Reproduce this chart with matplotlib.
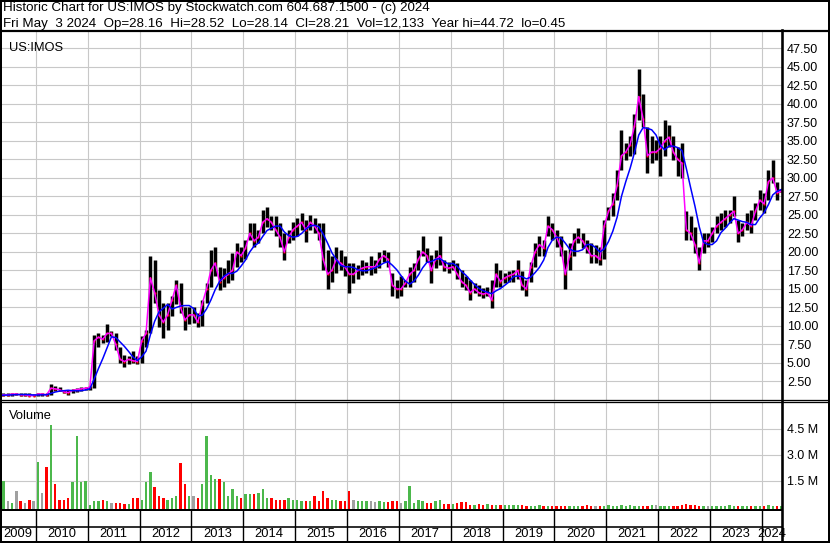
import numpy as np
import pandas as pd
import matplotlib
matplotlib.use("Agg")
import matplotlib.pyplot as plt
from matplotlib.lines import Line2D

plt.rcParams['font.family'] = ['Liberation Sans', 'DejaVu Sans']

# ---------------- data (monthly) ----------------
# months: Apr 2009 .. May 2024
hi = [0.8, 0.9, 0.9, 1.0, 1.0, 0.9, 0.9, 0.9, 0.8,
      1.0, 1.0, 1.0, 2.1, 1.9, 1.7, 1.4, 1.3, 1.5, 1.6, 1.7, 1.8,
      1.9, 8.8, 9.0, 8.8, 10.2, 9.3, 9.1, 7.2, 6.1, 5.9, 6.6, 5.9,
      8.6, 9.5, 19.5, 18.9, 14.9, 13.1, 13.1, 14.0, 16.2, 15.8, 12.6, 12.6,
      12.6, 11.7, 13.5, 15.8, 20.3, 20.7, 18.0, 17.8, 18.9, 19.8, 21.2, 20.7,
      21.6, 23.9, 23.9, 23.0, 25.7, 26.1, 24.8, 24.8, 23.9, 22.5, 23.0, 24.1,
      24.6, 25.2, 24.3, 25.0, 24.6, 23.9, 23.9, 20.3, 19.4, 20.7, 20.3, 19.4,
      18.5, 18.5, 18.3, 18.9, 18.7, 19.4, 18.9, 20.0, 20.3, 20.0, 17.1, 16.2,
      16.7, 16.2, 18.0, 18.5, 20.3, 22.1, 20.5, 19.6, 20.3, 22.1, 18.9, 18.7,
      18.9, 18.5, 17.6, 16.7, 16.2, 15.8, 15.5, 15.1, 15.3, 16.2, 18.5, 17.6,
      17.1, 17.4, 17.6, 18.9, 17.4, 16.2, 18.7, 21.2, 22.1, 21.6, 24.8, 23.9,
      23.0, 22.1, 20.3, 21.2, 22.5, 23.2, 22.5, 21.6, 21.2, 21.0, 20.7, 24.3,
      26.1, 27.9, 31.1, 36.5, 34.7, 35.6, 38.7, 44.7, 41.4, 36.9, 35.6, 35.1,
      35.6, 37.8, 37.1, 35.6, 34.2, 34.7, 25.5, 24.8, 23.4, 20.7, 22.5, 22.5,
      23.4, 24.8, 25.2, 25.7, 25.7, 27.5, 24.3, 23.9, 25.2, 25.7, 26.6, 28.4,
      27.9, 31.1, 32.4, 29.5, 28.52]
lo = [0.45, 0.5, 0.6, 0.6, 0.7, 0.6, 0.6, 0.5, 0.5,
      0.6, 0.6, 0.6, 0.7, 1.2, 1.2, 0.9, 0.7, 0.9, 1.1, 1.2, 1.3,
      1.4, 1.6, 7.2, 7.7, 7.9, 8.6, 6.8, 5.0, 4.5, 4.8, 5.0, 4.8,
      5.0, 7.2, 9.0, 13.1, 9.9, 8.4, 9.5, 11.3, 13.0, 11.7, 9.5, 10.2,
      10.4, 9.9, 10.0, 13.1, 15.3, 16.7, 14.9, 15.3, 15.8, 16.2, 18.0, 18.7,
      19.0, 21.6, 20.7, 21.2, 22.5, 23.4, 23.0, 22.1, 20.7, 18.9, 21.2, 21.6,
      22.1, 23.0, 21.4, 23.0, 22.5, 21.6, 17.6, 15.0, 16.0, 17.1, 17.6, 16.7,
      14.4, 15.8, 16.4, 16.9, 17.1, 16.9, 17.1, 17.8, 18.7, 18.0, 14.0, 13.8,
      14.0, 15.3, 15.3, 16.0, 17.6, 19.4, 18.7, 15.8, 17.8, 18.3, 17.4, 17.1,
      17.6, 16.4, 15.3, 14.9, 13.5, 14.4, 14.0, 13.8, 14.0, 12.4, 15.3, 15.3,
      15.8, 16.0, 16.0, 16.4, 14.9, 14.0, 16.0, 18.0, 19.4, 19.4, 22.1, 21.6,
      20.7, 19.4, 15.0, 17.6, 19.4, 21.2, 20.5, 19.8, 18.5, 18.5, 18.3, 19.0,
      24.3, 24.8, 27.0, 31.1, 32.4, 32.9, 33.3, 37.8, 36.9, 30.6, 32.0, 32.4,
      30.2, 32.9, 34.2, 32.4, 30.2, 30.0, 21.6, 21.6, 19.8, 17.6, 19.8, 20.7,
      21.4, 22.5, 23.0, 23.4, 23.9, 24.8, 21.4, 22.1, 23.0, 22.5, 24.3, 25.7,
      25.2, 27.0, 29.3, 27.0, 28.14]
cl = [0.6, 0.7, 0.7, 0.8, 0.8, 0.7, 0.7, 0.6, 0.6,
      0.8, 0.8, 0.7, 1.6, 1.5, 1.4, 1.1, 1.0, 1.3, 1.4, 1.5, 1.6,
      1.7, 8.0, 8.5, 8.2, 9.0, 9.0, 7.5, 5.5, 5.2, 5.5, 5.3, 5.2,
      8.0, 9.0, 16.5, 14.5, 11.5, 10.5, 11.5, 13.5, 15.5, 12.5, 10.8, 11.5,
      11.5, 10.5, 13.0, 15.0, 17.5, 18.5, 16.0, 16.5, 17.0, 17.5, 20.0, 19.5,
      20.5, 22.5, 21.5, 22.0, 24.0, 24.5, 24.0, 23.0, 22.0, 20.0, 22.0, 23.0,
      23.5, 24.0, 23.0, 24.0, 23.5, 22.5, 19.0, 17.0, 17.5, 19.0, 18.5, 18.0,
      17.0, 17.0, 17.5, 17.8, 18.0, 18.0, 18.0, 19.0, 19.5, 19.0, 15.5, 15.0,
      15.0, 15.8, 17.0, 17.5, 19.0, 20.0, 19.5, 17.5, 19.0, 19.5, 18.0, 17.8,
      18.0, 17.0, 16.0, 15.5, 14.5, 15.0, 14.5, 14.3, 14.5, 13.5, 17.0, 16.0,
      16.5, 16.8, 17.0, 17.5, 15.5, 15.0, 18.0, 20.0, 21.0, 20.5, 23.5, 23.0,
      22.0, 20.5, 17.0, 19.5, 21.5, 22.0, 21.5, 20.5, 19.5, 19.5, 19.0, 23.5,
      25.5, 26.5, 29.0, 33.0, 33.5, 34.5, 37.0, 41.0, 38.0, 33.0, 33.5, 33.5,
      34.0, 35.0, 35.5, 33.5, 32.5, 32.0, 23.0, 22.5, 21.0, 18.5, 21.5, 21.5,
      22.5, 23.5, 24.0, 24.5, 25.0, 25.5, 22.5, 23.0, 24.0, 23.5, 25.5, 27.0,
      26.5, 29.5, 30.0, 28.0, 28.21]
vol_m = [0.2, 1.5, 0.3, 0.2, 0.9, 0.3, 0.2, 0.4, 0.3,
         2.6, 0.8, 2.3, 4.7, 1.3, 0.4, 0.4, 0.5, 1.4, 4.1, 1.4, 1.5,
         0.1, 0.3, 0.3, 0.4, 0.3, 0.2, 0.2, 0.2, 0.15, 0.15, 0.5, 0.5,
         0.4, 1.4, 2.0, 1.1, 0.6, 0.5, 0.4, 0.5, 0.6, 2.5, 1.3, 0.6,
         0.6, 0.5, 1.3, 4.1, 1.8, 1.6, 1.6, 1.4, 0.6, 1.0, 0.6, 0.5,
         0.7, 0.7, 0.7, 0.8, 1.0, 0.5, 0.5, 0.4, 0.4, 0.4, 0.5, 0.4,
         0.4, 0.3, 0.3, 0.3, 0.6, 0.3, 0.9, 0.5, 0.4, 0.4, 0.3, 0.3,
         0.9, 0.4, 0.3, 0.3, 0.3, 0.3, 0.25, 0.3, 0.25, 0.25, 0.3, 0.3,
         0.2, 0.3, 1.2, 0.2, 0.4, 0.3, 0.2, 0.2, 0.3, 0.4, 0.15, 0.15,
         0.15, 0.2, 0.25, 0.25, 0.1, 0.1, 0.15, 0.1, 0.15, 0.1, 0.1, 0.1,
         0.08, 0.06, 0.06, 0.1, 0.06, 0.05, 0.05, 0.05, 0.1, 0.05, 0.05, 0.05,
         0.05, 0.05, 0.05, 0.05, 0.05, 0.05, 0.05, 0.1, 0.05, 0.05, 0.05, 0.05,
         0.1, 0.05, 0.05, 0.1, 0.05, 0.1, 0.05, 0.05, 0.05, 0.05, 0.08, 0.08,
         0.05, 0.05, 0.05, 0.05, 0.05, 0.08, 0.15, 0.1, 0.08, 0.05, 0.05, 0.05,
         0.05, 0.05, 0.05, 0.05, 0.08, 0.05, 0.05, 0.05, 0.05, 0.05, 0.05, 0.05,
         0.05, 0.1, 0.05, 0.05, 0.02]
years = list(range(2009, 2025))
price_ticks = [2.5 * k for k in range(1, 20)]
vol_ticks = [1.5e6, 3.0e6, 4.5e6]

title1 = "Historic Chart for US:IMOS by Stockwatch.com 604.687.1500 - (c) 2024"
title2 = ("Fri May  3 2024  Op=28.16  Hi=28.52  Lo=28.14  Cl=28.21  "
          "Vol=12,133  Year hi=44.72  lo=0.45")

months = pd.date_range("2009-04-01", "2024-05-01", freq="MS")
t = np.asarray(months.year + (months.month - 0.5) / 12.0)
close = pd.Series(cl)
ma_fast = close.rolling(1).mean()
ma_slow = close.rolling(5, min_periods=1).mean()
vol = np.array(vol_m) * 1e6
chg = close.diff().fillna(1.0)
vcol = np.where(chg > 0, "#4cb84c", np.where(chg < 0, "#ff0000", "#a0a0a0"))

# ---------------- layout in pixels ----------------
W, H = 830, 543
fig = plt.figure(figsize=(W / 100, H / 100), dpi=100)
XL = (2009.3095, 2024.387)
GRID = "#c8c8c8"


def px_axes(x0, y0, x1, y1):
    return fig.add_axes([x0 / W, 1 - y1 / H, (x1 - x0) / W, (y1 - y0) / H])


def hline(y, x0=0, x1=W, lw=2):
    fig.add_artist(Line2D([x0 / W, x1 / W], [1 - y / H, 1 - y / H],
                          color="black", lw=lw * 0.72))


def vline(x, y0, y1, lw=2):
    fig.add_artist(Line2D([x / W, x / W], [1 - y0 / H, 1 - y1 / H],
                          color="black", lw=lw * 0.72))


# price panel
ax = px_axes(0, 31, 782, 400)
ax.set_xlim(*XL)
ax.set_ylim(0, 49.85)
ax.set_xticks(years[1:])
ax.set_yticks(price_ticks)
ax.set_yticklabels(["%.2f" % v for v in price_ticks])
ax.yaxis.tick_right()
ax.tick_params(axis="y", length=0, pad=3.6, labelsize=9)
ax.tick_params(axis="x", length=0, labelbottom=False)
ax.grid(True, color=GRID, lw=0.8)
ax.set_axisbelow(True)
for s in ax.spines.values():
    s.set_visible(False)
ax.vlines(t, lo, hi, color="black", lw=2.5, zorder=2)
ax.plot(t, cl, ls="none", marker="s", ms=1.6, color="red", mec="none", zorder=3)
ax.plot(t, ma_fast, color="#ff00ff", lw=1.1, zorder=4)
ax.plot(t, ma_slow, color="#0000ff", lw=1.1, zorder=5)
ax.text(0.011, 0.97, "US:IMOS", transform=ax.transAxes, fontsize=9.3,
        va="top", ha="left")

# volume panel
av = px_axes(0, 403, 782, 509.5)
av.set_xlim(*XL)
vbot = -0.18e6
av.set_ylim(vbot, 6.0e6)
av.set_xticks(years[1:])
av.set_yticks(vol_ticks)
av.set_yticklabels(["%.1f M" % (v / 1e6) for v in vol_ticks])
av.yaxis.tick_right()
av.tick_params(axis="y", length=0, pad=3.6, labelsize=9)
av.tick_params(axis="x", length=0, labelbottom=False)
av.grid(True, color=GRID, lw=0.8)
av.set_axisbelow(True)
for s in av.spines.values():
    s.set_visible(False)
av.bar(t, vol - vbot, bottom=vbot, width=0.55 / 12, color=vcol, lw=0)
av.text(0.011, 0.93, "Volume", transform=av.transAxes, fontsize=9.3,
        va="top", ha="left")

# date strip
ad = px_axes(0, 510, 782, 541)
ad.set_xlim(*XL)
ad.set_ylim(0, 1)
ad.axis("off")
for y in years[1:]:
    ad.axvline(y, color="black", lw=1.0)
for y in years:
    a, b = max(y, XL[0]), min(y + 1, XL[1])
    ad.text((a + b) / 2, 0.22, str(y), ha="center", va="center", fontsize=9.3)

# frame lines
hline(0.8, lw=2)
hline(542.2, lw=2)
vline(0.8, 0, H, lw=2)
vline(829.2, 0, H, lw=2)
hline(30.5, lw=2.2)
hline(399.8, 0, W, lw=1.3)
hline(402.3, 0, W, lw=1.3)
hline(510.3, 0, 782, lw=2)
hline(527.4, 0, 782, lw=1.6)
vline(782, 30, H, lw=2.6)

fig.text(3 / W, 1 - 11.5 / H, title1, fontsize=9.6, va="baseline", ha="left")
fig.text(3 / W, 1 - 27 / H, title2, fontsize=9.6, va="baseline", ha="left")

fig.savefig("out.png", dpi=100)
